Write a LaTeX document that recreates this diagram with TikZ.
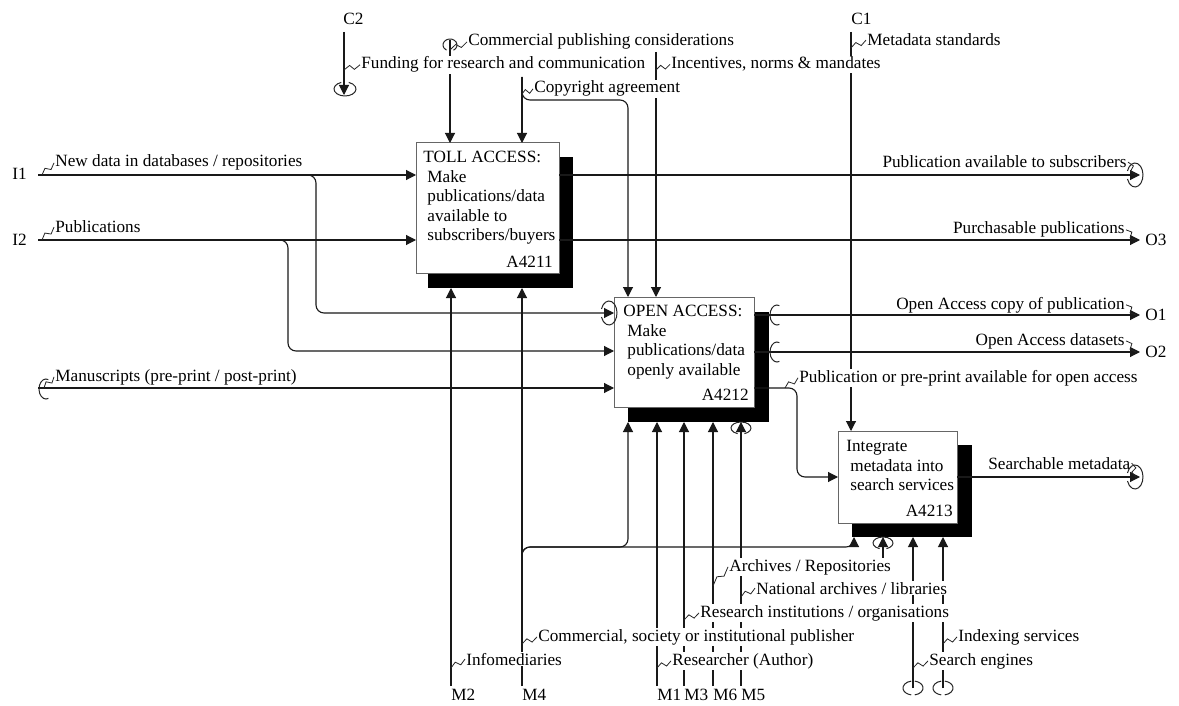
\documentclass[tikz,border=0pt]{standalone}
\usepackage{fontspec}
\setmainfont{Liberation Serif}
\usetikzlibrary{arrows.meta,calc}

% squiggle from an arrow to its label
\newcommand{\squig}[2]{\draw[squigline] (#1) -- ($(#1)!0.4!(#2)!1.3pt!90:(#2)$)
  -- ($(#1)!0.6!(#2)!1.3pt!-90:(#2)$) -- (#2);}
% tunnel bracket: centre, start, end, x radius, y radius
\newcommand{\tunarc}[5]{\draw[tun] ($(#1)+(#2:#4 and #5)$)
  arc[start angle=#2, end angle=#3, x radius=#4, y radius=#5];}

\begin{document}
\begin{tikzpicture}[x=0.5pt, y=-0.5pt,
  font=\fontsize{8.6pt}{9.75pt}\selectfont,
  flowline/.style={draw=black!90, line width=0.55pt},
  arrow/.style={flowline, -{Triangle[length=5pt, width=5pt]}},
  route/.style={arrow, rounded corners=4pt},
  activity/.style={draw=black!60, fill=white, line width=0.5pt,
    inner sep=0pt, outer sep=0pt, anchor=north west},
  boxshadow/.style={fill=black, inner sep=0pt, outer sep=0pt, anchor=north west},
  boxtext/.style={align=left, inner sep=0pt, anchor=north west},
  boxnum/.style={inner sep=0pt, anchor=base east},
  icom/.style={inner sep=0pt, anchor=base west},
  flowlabel/.style={fill=white, inner sep=0.5pt, anchor=base west},
  rlabel/.style={flowlabel, anchor=base east},
  squigline/.style={draw=black!85, line width=0.4pt},
  tun/.style={draw=black!85, line width=0.5pt},
]
  \fill[white] (0,0) rectangle (1179,706);
  \useasboundingbox (0,0) rectangle (1179,706);

  % Activity boxes
  \node[boxshadow, minimum width=72.5pt, minimum height=65.5pt] (A4211s) at (428,157) {};
  \node[activity, minimum width=71.5pt, minimum height=65pt] (A4211) at (416,143) {};
  \node[boxshadow, minimum width=70.5pt, minimum height=55pt] (A4212s) at (628,312) {};
  \node[activity, minimum width=70pt, minimum height=55pt] (A4212) at (614,297) {};
  \node[boxshadow, minimum width=60pt, minimum height=46pt] (A4213s) at (852,445) {};
  \node[activity, minimum width=59.5pt, minimum height=46pt] (A4213) at (838,431) {};

  \node[boxtext] (A4211txt) at ($(A4211.north west)+(7,8)$)
    {TOLL ACCESS:\\\hspace*{2pt}Make\\\hspace*{2pt}publications/data\\
     \hspace*{2pt}available to\\\hspace*{2pt}subscribers/buyers};
  \node[boxnum] (A4211num) at ($(A4211.south east)+(-6,-6)$) {A4211};
  \node[boxtext] (A4212txt) at ($(A4212.north west)+(9,8)$)
    {OPEN ACCESS:\\\hspace*{2pt}Make\\\hspace*{2pt}publications/data\\
     \hspace*{2pt}openly available};
  \node[boxnum] (A4212num) at ($(A4212.south east)+(-5,-7)$) {A4212};
  \node[boxtext] (A4213txt) at ($(A4213.north west)+(8,9)$)
    {Integrate\\\hspace*{2pt}metadata into\\\hspace*{2pt}search services};
  \node[boxnum] (A4213num) at ($(A4213.south east)+(-4,-7)$) {A4213};

  % Inputs
  \coordinate (i1) at (38,175);
  \coordinate (i2) at (38,240);
  \coordinate (i3) at (38,388);
  \coordinate (b1) at (305,175);
  \coordinate (j1) at (316,313);
  \coordinate (b2) at (278,240);
  \coordinate (j2) at (288,351);
  \draw[arrow] (i1) -- (i1 -| A4211.west);
  \draw[arrow] (i2) -- (i2 -| A4211.west);
  \draw[arrow] (i3) -- (i3 -| A4212.west);
  \draw[route] (b1) -| (j1) -- (j1 -| A4212.west);
  \draw[route] (b2) -| (j2) -- (j2 -| A4212.west);

  % Outputs
  \coordinate (o0) at (1140,175);
  \coordinate (o3) at (1140,240);
  \coordinate (o1) at (1140,315);
  \coordinate (o2) at (1140,352);
  \coordinate (o4) at (1140,477);
  \coordinate (p1) at (797,388);
  \coordinate (p2) at (797,477);
  \draw[arrow] (o0 -| A4211.east) -- (o0);
  \draw[arrow] (o3 -| A4211.east) -- (o3);
  \draw[arrow] (o1 -| A4212.east) -- (o1);
  \draw[arrow] (o2 -| A4212.east) -- (o2);
  \draw[route] (p1 -| A4212.east) -- (p1) -- (p2) -- (p2 -| A4213.west);
  \draw[arrow] (o4 -| A4213.east) -- (o4);

  % Controls
  \coordinate (c2a) at (344,32);
  \coordinate (c2b) at (344,95);
  \coordinate (ccom) at (450,40);
  \coordinate (ccopy) at (522,77);
  \coordinate (jcopy) at (628,100);
  \coordinate (cinc) at (656,52);
  \coordinate (c1) at (851,32);
  \draw[arrow] (c2a) -- (c2b);
  \draw[arrow] (ccom) -- (ccom |- A4211.north);
  \draw[arrow] (ccopy) -- (ccopy |- A4211.north);
  \draw[route] (ccopy) |- (jcopy) -- (jcopy |- A4212.north);
  \draw[arrow] (cinc) -- (cinc |- A4212.north);
  \draw[arrow] (c1) -- (c1 |- A4213.north);

  % Mechanisms
  \foreach \m/\x in {M2/451, M4/522}{
    \coordinate (m\m) at (\x,686);
    \draw[arrow] (m\m) -- (m\m |- A4211s.south);
  }
  \foreach \m/\x in {M1/657, M3/684, M6/713, M5/741}{
    \coordinate (m\m) at (\x,686);
    \draw[arrow] (m\m) -- (m\m |- A4212s.south);
  }
  \coordinate (mb) at (522,570);
  \coordinate (mj1) at (628,547);
  \coordinate (mj2) at (854,547);
  \draw[route] (mb) |- (mj1) -- (mj1 |- A4212s.south);
  \draw[route] (mb) |- (mj2) -- (mj2 |- A4213s.south);
  \coordinate (marc) at (883,560);
  \coordinate (mse) at (913,688);
  \coordinate (midx) at (943,688);
  \draw[arrow] (marc) -- (marc |- A4213s.south);
  \draw[arrow] (mse) -- (mse |- A4213s.south);
  \draw[arrow] (midx) -- (midx |- A4213s.south);

  % ICOM codes
  \node[icom] (C2) at (343,25) {C2};
  \node[icom] (C1) at (851,25) {C1};
  \node[icom] (I1) at (12,180) {I1};
  \node[icom] (I2) at (12,245) {I2};
  \node[icom] (O3) at (1145,245) {O3};
  \node[icom] (O1) at (1145,320) {O1};
  \node[icom] (O2) at (1145,357) {O2};
  \foreach \m/\x in {M2/451, M4/522, M1/657, M3/684, M6/713, M5/741}
    \node[icom] (l\m) at (\x,700) {\m};

  % Arrow labels
  \node[flowlabel] (tCom) at (467,46) {Commercial publishing considerations};
  \node[flowlabel] (tFund) at (360,69) {Funding for research and communication};
  \node[flowlabel] (tInc) at (670,69) {Incentives, norms \& mandates};
  \node[flowlabel] (tCopy) at (533,93) {Copyright agreement};
  \node[flowlabel] (tMeta) at (866,46) {Metadata standards};
  \node[flowlabel] (tNew) at (54,167) {New data in databases / repositories};
  \node[flowlabel] (tPubs) at (54,233) {Publications};
  \node[flowlabel] (tMan) at (54,381) {Manuscripts (pre-print / post-print)};
  \node[rlabel] (tSub) at (1128,168) {Publication available to subscribers};
  \node[rlabel] (tPur) at (1126,234) {Purchasable publications};
  \node[rlabel] (tOAc) at (1126,309) {Open Access copy of publication};
  \node[rlabel] (tOAd) at (1126,345) {Open Access datasets};
  \node[flowlabel] (tPOA) at (798,382) {Publication or pre-print available for open access};
  \node[flowlabel] (tSrch) at (987,469) {Searchable metadata};
  \node[flowlabel] (tArc) at (728,571) {Archives / Repositories};
  \node[flowlabel] (tNat) at (755,594) {National archives / libraries};
  \node[flowlabel] (tRes) at (699,617) {Research institutions / organisations};
  \node[flowlabel] (tCso) at (537,641) {Commercial, society or institutional publisher};
  \node[flowlabel] (tIdx) at (957,641) {Indexing services};
  \node[flowlabel] (tInf) at (465,665) {Infomediaries};
  \node[flowlabel] (tRsr) at (671,665) {Researcher (Author)};
  \node[flowlabel] (tSE) at (928,665) {Search engines};

  % Squiggles
  \squig{450,50}{tCom.west}
  \squig{344,70}{tFund.west}
  \squig{656,70}{tInc.west}
  \squig{522,94}{tCopy.west}
  \squig{851,48}{tMeta.west}
  \squig{42,175}{tNew.west}
  \squig{42,240}{tPubs.west}
  \squig{44,388}{tMan.west}
  \squig{tSub.east}{1136,175}
  \squig{tPur.east}{1136,240}
  \squig{tOAc.east}{1136,315}
  \squig{tOAd.east}{1136,352}
  \squig{tSrch.east}{1136,477}
  \squig{785,388}{tPOA.west}
  \squig{713,586}{tArc.west}
  \squig{741,597}{tNat.west}
  \squig{684,620}{tRes.west}
  \squig{522,644}{tCso.west}
  \squig{451,668}{tInf.west}
  \squig{657,668}{tRsr.west}
  \squig{943,644}{tIdx.west}
  \squig{913,668}{tSE.west}

  % Tunnels
  \tunarc{1135,175}{160}{-160}{4pt}{6pt}
  \tunarc{1135,477}{160}{-160}{4pt}{6pt}
  \tunarc{609,313}{160}{-160}{4pt}{6pt}
  \tunarc{345,89}{110}{430}{5.5pt}{3.5pt}
  \tunarc{741,428}{-70}{250}{5pt}{3pt}
  \tunarc{883,543}{-70}{250}{5pt}{3pt}
  \tunarc{777,315}{70}{290}{3.5pt}{5pt}
  \tunarc{777,352}{70}{290}{3.5pt}{5pt}
  \tunarc{46,389}{70}{290}{3.5pt}{5pt}
  \tunarc{450,45}{-60}{240}{3.5pt}{3pt}
  \foreach \x in {913,943}{
    \tunarc{\x,688}{100}{260}{5pt}{3.5pt}
    \tunarc{\x,688}{-80}{80}{5pt}{3.5pt}
  }
\end{tikzpicture}
\end{document}
